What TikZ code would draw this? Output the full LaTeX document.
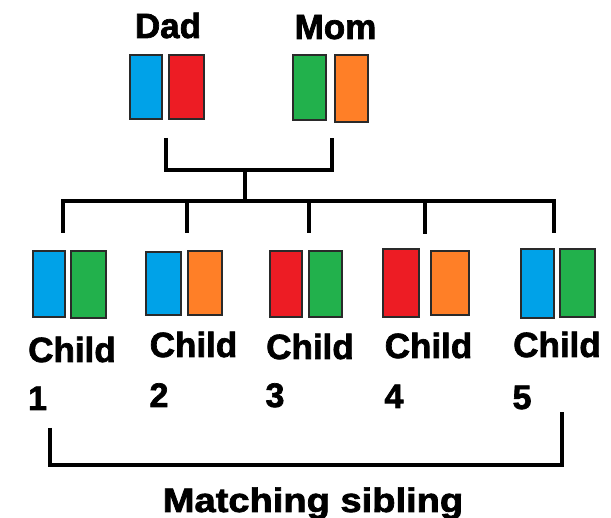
\documentclass[tikz,border=0pt]{standalone}
\usepackage{fontspec}
\setmainfont{Liberation Sans}[BoldFeatures={FakeBold=2}]
\definecolor{gblue}{HTML}{00A2E8}
\definecolor{gred}{HTML}{ED1C24}
\definecolor{ggreen}{HTML}{22B14C}
\definecolor{gorange}{HTML}{FF7F27}
\definecolor{edge}{HTML}{2A2A2A}
\tikzset{
  gene/.style={draw=edge, line width=2pt, anchor=north west, inner sep=0pt, outer sep=0pt},
  lbl/.style={inner sep=0pt, anchor=base, font=\fontsize{35}{40}\selectfont\bfseries},
  numlbl/.style={inner sep=0pt, anchor=base, font=\fontsize{34}{40}\selectfont\bfseries},
  link/.style={line width=4pt, black}
}
\begin{document}
\begin{tikzpicture}[x=1pt,y=-1pt]
\useasboundingbox (0,0) rectangle (611,518);
% parents
\node[lbl] (dad) at (168,38) {Dad};
\node[lbl] (mom) at (335.5,39) {Mom};
\node[gene, fill=gblue, minimum width=32, minimum height=64] (d1) at (130,55) {};
\node[gene, fill=gred, minimum width=35, minimum height=64] (d2) at (169,55) {};
\node[gene, fill=ggreen, minimum width=33, minimum height=65] (m1) at (293,55) {};
\node[gene, fill=gorange, minimum width=33, minimum height=67] (m2) at (335,55) {};
% children boxes
\node[gene, fill=gblue, minimum width=32, minimum height=66] (c1a) at (33,251) {};
\node[gene, fill=ggreen, minimum width=35, minimum height=67] (c1b) at (71,251) {};
\node[gene, fill=gblue, minimum width=35, minimum height=63] (c2a) at (146,252) {};
\node[gene, fill=gorange, minimum width=34, minimum height=64] (c2b) at (188,251) {};
\node[gene, fill=gred, minimum width=32, minimum height=66] (c3a) at (270,251) {};
\node[gene, fill=ggreen, minimum width=33, minimum height=66] (c3b) at (309,251) {};
\node[gene, fill=gred, minimum width=36, minimum height=68] (c4a) at (383,249) {};
\node[gene, fill=gorange, minimum width=38, minimum height=64] (c4b) at (431,251) {};
\node[gene, fill=gblue, minimum width=33, minimum height=69] (c5a) at (521,249) {};
\node[gene, fill=ggreen, minimum width=35, minimum height=68] (c5b) at (560,249) {};
% child labels
\node[lbl] (t1) at (72,362) {Child};
\node[lbl] (t2) at (193.5,357) {Child};
\node[lbl] (t3) at (310,359) {Child};
\node[lbl] (t4) at (428.5,358) {Child};
\node[lbl] (t5) at (557,357) {Child};
\node[numlbl] (n1) at (37.5,410) {1};
\node[numlbl] (n2) at (159,407) {2};
\node[numlbl] (n3) at (275,407) {3};
\node[numlbl] (n4) at (394,408) {4};
\node[numlbl] (n5) at (522,409) {5};
\node[inner sep=0pt, anchor=base, font=\fontsize{34}{40}\selectfont\bfseries] (ms) at (313,512) {\scalebox{1.12}[1]{Matching sibling}};
% connector coordinates
\coordinate (pl) at (166,138);
\coordinate (pr) at (332,138);
\coordinate (pj) at (245,170);
\coordinate (bj) at (245,201);
\coordinate (k1) at (63,233);
\coordinate (k2) at (187,233);
\coordinate (k3) at (309,233);
\coordinate (k4) at (425,234);
\coordinate (k5) at (554,233);
\coordinate (s1) at (50,428);
\coordinate (s5) at (562,412);
\coordinate (sm) at (306,465);
% connectors
\draw[link] (pl) |- (pj) -| (pr);
\draw[link] (pj) -- (bj);
\draw[link] (k1) |- (bj) -| (k5);
\draw[link] (k2) -- (k2 |- bj);
\draw[link] (k3) -- (k3 |- bj);
\draw[link] (k4) -- (k4 |- bj);
\draw[link] (s1) |- (sm) -| (s5);
\end{tikzpicture}
\end{document}
